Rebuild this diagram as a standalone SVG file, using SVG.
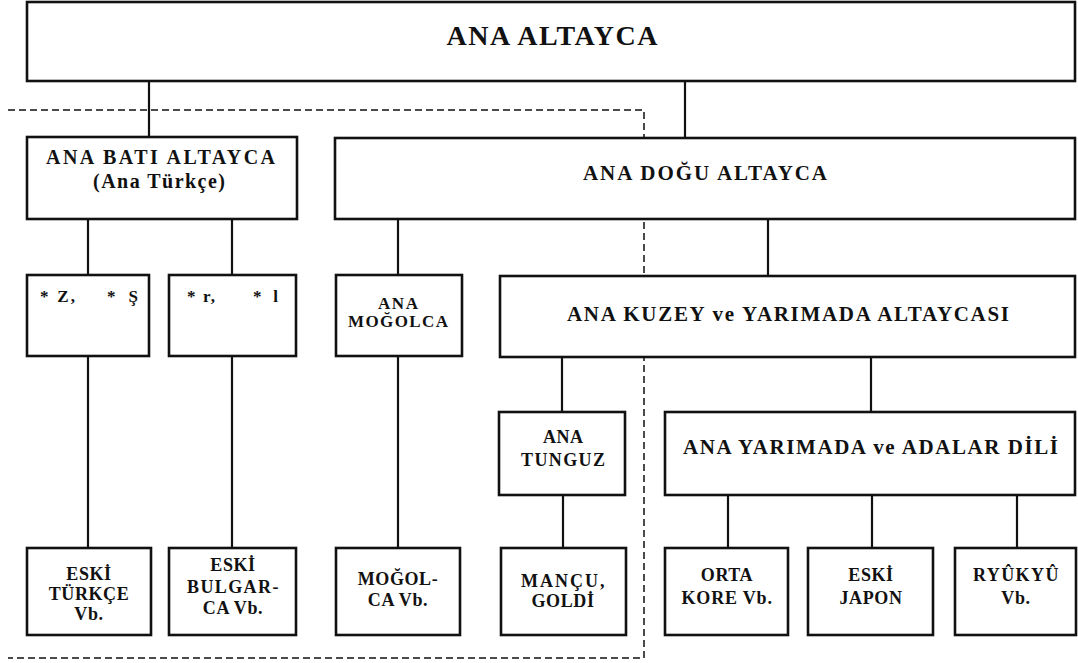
<svg xmlns="http://www.w3.org/2000/svg" width="1078" height="663" viewBox="0 0 1078 663">
<style>
.bg{fill:#fff}
.box{fill:#fff;stroke:#111;stroke-width:2.6}
.con{stroke:#111;stroke-width:2.2;fill:none}
.dash{stroke:#111;stroke-width:1.5;fill:none;stroke-dasharray:7 4}
text{font-family:"Liberation Serif","Times New Roman",serif;font-weight:bold;fill:#111;text-anchor:middle}
.t27{font-size:28px}
.t21{font-size:21px}
.t20{font-size:20px}
.t17{font-size:17px}
.t18{font-size:18px}
.sm{font-size:18px;letter-spacing:0.6px}
.st{text-anchor:start}
</style>
<rect class="bg" x="0" y="0" width="1078" height="663"/>
<g id="connectors">
<path class="dash" d="M8 110 H644 V658 H8"/>
<path class="con" d="M149 81 V137 M685 81 V138 M88 219 V275 M232 219 V275 M398 219 V275 M768 219 V276 M88 356 V548 M232 356 V548 M398 356 V548 M562 357 V412 M871 357 V412 M563 495 V548 M728 495 V548 M872 495 V548 M1017 495 V548"/>
</g>
<g id="ana-altayca"><rect class="box" x="27" y="2" width="1048" height="79"/><text class="t27" x="552" y="45" textLength="211">ANA ALTAYCA</text></g>
<g id="ana-bati"><rect class="box" x="27" y="137" width="270" height="82"/><text class="t20" x="160.5" y="164" textLength="229">ANA BATI ALTAYCA</text><text class="t20" x="159" y="188" textLength="132">(Ana Türkçe)</text></g>
<g id="ana-dogu"><rect class="box" x="335" y="138" width="740" height="81"/><text class="t21" x="705" y="180" textLength="244">ANA DOĞU ALTAYCA</text></g>
<g id="z-s"><rect class="box" x="27" y="275" width="122" height="81"/><text class="t17 st" x="40" y="302" textLength="35">* Z,</text><text class="t17 st" x="107" y="302" textLength="31">* Ş</text></g>
<g id="r-l"><rect class="box" x="169" y="275" width="127" height="81"/><text class="t17 st" x="187" y="302" textLength="28">* r,</text><text class="t17 st" x="253" y="302" textLength="25">* l</text></g>
<g id="ana-mogolca"><rect class="box" x="336" y="275" width="126" height="81"/><text class="t17" x="398" y="309" textLength="40">ANA</text><text class="t17" x="398" y="327" textLength="100">MOĞOLCA</text></g>
<g id="ana-kuzey"><rect class="box" x="500" y="276" width="575" height="81"/><text class="t21" x="788" y="321" textLength="442">ANA KUZEY ve YARIMADA ALTAYCASI</text></g>
<g id="ana-tunguz"><rect class="box" x="499" y="412" width="126" height="83"/><text class="t18" x="563" y="443" textLength="40">ANA</text><text class="t18" x="563" y="466" textLength="84">TUNGUZ</text></g>
<g id="ana-yarimada"><rect class="box" x="665" y="412" width="410" height="83"/><text class="t21" x="870.5" y="454" textLength="375">ANA YARIMADA ve ADALAR DİLİ</text></g>
<g id="eski-turkce"><rect class="box" x="27" y="548" width="124" height="87"/><text class="sm" x="89" y="580">ESKİ</text><text class="sm" x="89" y="600">TÜRKÇE</text><text class="sm" x="89" y="620">Vb.</text></g>
<g id="eski-bulgarca"><rect class="box" x="169" y="548" width="127" height="87"/><text class="sm" x="233" y="571">ESKİ</text><text class="sm" x="233" y="593" textLength="92">BULGAR-</text><text class="sm" x="233" y="614">CA Vb.</text></g>
<g id="mogolca-vb"><rect class="box" x="336" y="548" width="124" height="87"/><text class="sm" x="398" y="585">MOĞOL-</text><text class="sm" x="398" y="606">CA Vb.</text></g>
<g id="mancu-goldi"><rect class="box" x="501" y="548" width="125" height="87"/><text class="sm" x="563" y="587" textLength="84">MANÇU,</text><text class="sm" x="563" y="607">GOLDİ</text></g>
<g id="orta-kore"><rect class="box" x="665" y="548" width="123" height="87"/><text class="sm" x="727" y="581">ORTA</text><text class="sm" x="727" y="604" textLength="91">KORE Vb.</text></g>
<g id="eski-japon"><rect class="box" x="808" y="548" width="125" height="87"/><text class="sm" x="871" y="581">ESKİ</text><text class="sm" x="871" y="604">JAPON</text></g>
<g id="ryukyu"><rect class="box" x="955" y="548" width="121" height="87"/><text class="sm" x="1016" y="581" textLength="86">RYÛKYÛ</text><text class="sm" x="1016" y="604">Vb.</text></g>
</svg>
